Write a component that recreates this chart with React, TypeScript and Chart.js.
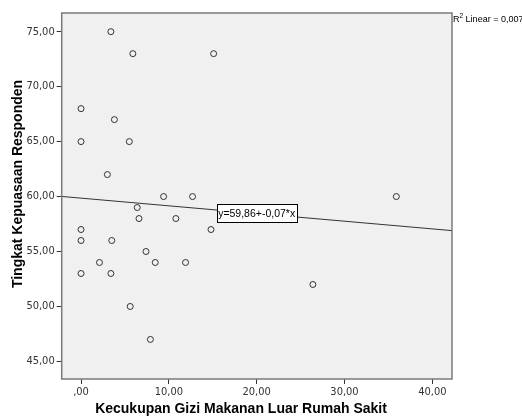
import React, { useEffect, useRef } from "react";
import { Chart, registerables } from "chart.js";

Chart.register(...registerables);

const xValues = [3.4, 5.9, 15.1, 0, 3.8, 0, 5.5, 3.0, 9.4, 12.7, 35.9, 6.4, 6.6, 10.8, 14.8, 0, 0, 3.5, 7.4, 2.1, 8.45, 11.9, 0, 3.4, 5.6, 7.9, 26.4];
const yValues = [75, 73, 73, 68, 67, 65, 65, 62, 60, 60, 60, 59, 58, 58, 57, 57, 56, 56, 55, 54, 54, 54, 53, 53, 50, 47, 52];
const fitX = [-2.2, 42.24];
const fitY = [60.01, 56.9];
const labelAt = [20, 58.46];
const xTicks = [0, 10, 20, 30, 40];
const yTicks = [45, 50, 55, 60, 65, 70, 75];
const xTitle = "Kecukupan Gizi Makanan Luar Rumah Sakit";
const yTitle = "Tingkat Kepuasaan Responden";
const eqText = "y=59,86+-0,07*x";
const r2Text = " Linear = 0,007";

const fmt = (v: number) => {
  let s = v.toFixed(2).replace(".", ",");
  if (s.startsWith("0,")) s = s.slice(1);
  return s;
};

const FONT = "'Liberation Sans', Arial, sans-serif";
const NARROW = "'Liberation Sans Narrow', 'Arial Narrow', 'DejaVu Sans Condensed', sans-serif";

const spssPlugin = {
  id: "spss",
  beforeDraw(chart: any) {
    const { ctx, chartArea: a } = chart;
    ctx.save();
    ctx.fillStyle = "#f0f0f0";
    ctx.fillRect(a.left, a.top, a.right - a.left, a.bottom - a.top);
    ctx.restore();
  },
  afterDatasetsDraw(chart: any) {
    const { ctx, chartArea: a, scales } = chart;
    ctx.save();
    ctx.strokeStyle = "#7a7a7a";
    ctx.lineWidth = 1.5;
    ctx.strokeRect(a.left, a.top, a.right - a.left, a.bottom - a.top);
    const cx = scales.x.getPixelForValue(labelAt[0]);
    const cy = scales.y.getPixelForValue(labelAt[1]);
    ctx.font = `10.5px ${FONT}`;
    const w = Math.round(ctx.measureText(eqText).width + 3);
    const h = 18;
    const bx = Math.round(cx - w / 2) + 0.5;
    const by = Math.round(cy - h / 2) + 0.5;
    ctx.fillStyle = "#ffffff";
    ctx.fillRect(bx, by, w, h);
    ctx.strokeStyle = "#000000";
    ctx.lineWidth = 1;
    ctx.strokeRect(bx, by, w, h);
    ctx.fillStyle = "#000000";
    ctx.textAlign = "center";
    ctx.textBaseline = "middle";
    ctx.fillText(eqText, cx, cy + 1);
    ctx.restore();
  },
  afterDraw(chart: any) {
    const { ctx, chartArea: a } = chart;
    ctx.save();
    ctx.fillStyle = "#000000";
    ctx.font = `bold 14px ${FONT}`;
    ctx.textAlign = "center";
    ctx.textBaseline = "middle";
    ctx.fillText(xTitle, 241, 409);
    ctx.save();
    ctx.translate(18, 184);
    ctx.rotate(-Math.PI / 2);
    ctx.fillText(yTitle, 0, 0);
    ctx.restore();
    ctx.textAlign = "left";
    ctx.textBaseline = "alphabetic";
    ctx.font = `9px ${FONT}`;
    let x = a.right + 1;
    const y = 22;
    ctx.fillText("R", x, y);
    x += ctx.measureText("R").width;
    ctx.font = `6.5px ${FONT}`;
    ctx.fillText("2", x, y - 4);
    x += ctx.measureText("2").width;
    ctx.font = `9px ${FONT}`;
    ctx.fillText(r2Text, x, y);
    ctx.restore();
  },
};

export default function App() {
  const ref = useRef<HTMLCanvasElement | null>(null);
  useEffect(() => {
    document.body.style.margin = "0";
    const canvas = ref.current!;
    const chart = new Chart(canvas, {
      type: "scatter",
      data: {
        datasets: [
          {
            data: xValues.map((x, i) => ({ x, y: yValues[i] })),
            pointRadius: 3,
            pointBorderWidth: 1,
            pointBorderColor: "#333333",
            pointBackgroundColor: "rgba(0,0,0,0)",
            order: 1,
          },
          {
            data: fitX.map((x, i) => ({ x, y: fitY[i] })),
            showLine: true,
            borderColor: "#333333",
            borderWidth: 1,
            pointRadius: 0,
            order: 2,
          } as any,
        ],
      },
      options: {
        responsive: false,
        animation: false,
        layout: { padding: { top: 13, right: 70, left: 0, bottom: 0 } },
        plugins: { legend: { display: false }, tooltip: { enabled: false } },
        scales: {
          x: {
            type: "linear",
            min: -2.2,
            max: 42.24,
            afterBuildTicks: (s: any) => {
              s.ticks = xTicks.map((v) => ({ value: v }));
            },
            afterFit: (s: any) => {
              s.height = 38;
            },
            ticks: {
              callback: (v: any) => fmt(Number(v)),
              color: "#333333",
              font: { family: NARROW, size: 11 },
              padding: 2,
              maxRotation: 0,
            },
            grid: { drawOnChartArea: false, drawTicks: true, tickLength: 5, tickColor: "#333333", tickWidth: 1 },
            border: { display: false },
          },
          y: {
            type: "linear",
            min: 43.4,
            max: 76.7,
            afterBuildTicks: (s: any) => {
              s.ticks = yTicks.map((v) => ({ value: v }));
            },
            afterFit: (s: any) => {
              s.width = 61.7;
            },
            ticks: {
              callback: (v: any) => fmt(Number(v)),
              color: "#333333",
              font: { family: NARROW, size: 11 },
              padding: 2,
            },
            grid: { drawOnChartArea: false, drawTicks: true, tickLength: 5, tickColor: "#333333", tickWidth: 1 },
            border: { display: false },
          },
        },
      },
      plugins: [spssPlugin],
    } as any);
    return () => chart.destroy();
  }, []);
  return (
    <div style={{ width: 522, height: 417 }}>
      <canvas ref={ref} width={522} height={417} style={{ display: "block" }} />
    </div>
  );
}
